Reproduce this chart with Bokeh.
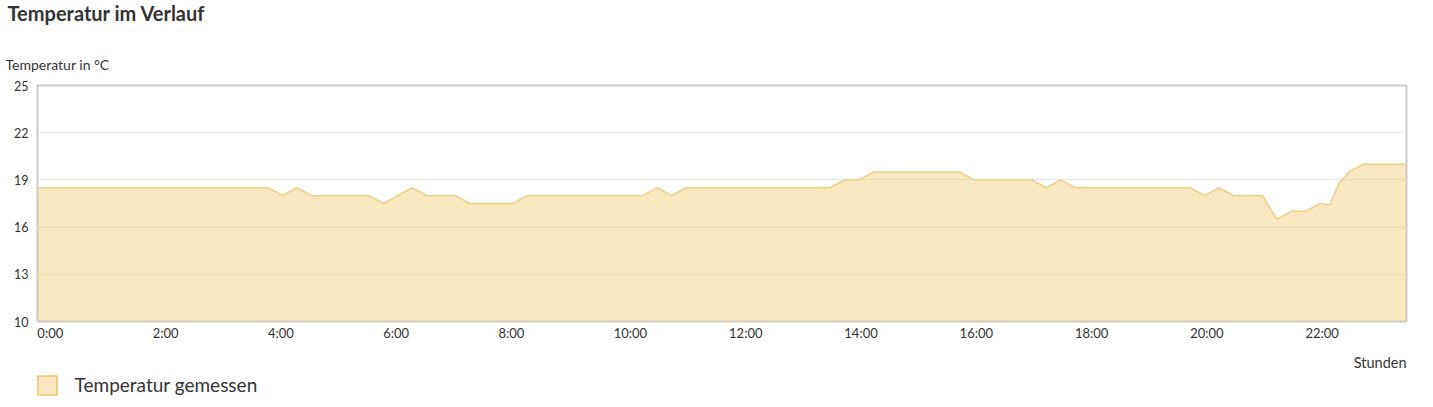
from bokeh.plotting import figure
from bokeh.layouts import column
from bokeh.models import (FixedTicker, Title, Legend, LegendItem, Range1d,
                          ColumnDataSource, Label)
from bokeh.embed import file_html
from bokeh.resources import INLINE

# ---------------- data ----------------
times = [
    "0:00", "0:15", "0:30", "0:45", "1:00", "1:15", "1:30", "1:45",
    "2:00", "2:15", "2:30", "2:45", "3:00", "3:15", "3:30", "3:45",
    "4:00", "4:15", "4:30", "4:45", "5:00", "5:15", "5:30", "5:45",
    "6:00", "6:15", "6:30", "6:45", "7:00", "7:15", "7:30", "7:45",
    "8:00", "8:15", "8:30", "8:45", "9:00", "9:15", "9:30", "9:45",
    "10:00", "10:15", "10:30", "10:45", "11:00", "11:15", "11:30", "11:45",
    "12:00", "12:15", "12:30", "12:45", "13:00", "13:15", "13:30", "13:45",
    "14:00", "14:15", "14:30", "14:45", "15:00", "15:15", "15:30", "15:45",
    "16:00", "16:15", "16:30", "16:45", "17:00", "17:15", "17:30", "17:45",
    "18:00", "18:15", "18:30", "18:45", "19:00", "19:15", "19:30", "19:45",
    "20:00", "20:15", "20:30", "20:45", "21:00", "21:15", "21:30", "21:45",
    "22:00", "22:15", "22:25", "22:35", "22:45",
    "23:00", "23:15", "23:30", "23:45",
]
temps = [
    18.5, 18.5, 18.5, 18.5, 18.5, 18.5, 18.5, 18.5,
    18.5, 18.5, 18.5, 18.5, 18.5, 18.5, 18.5, 18.5,
    18.5, 18.0, 18.5, 18.0, 18.0, 18.0, 18.0, 18.0,
    17.5, 18.0, 18.5, 18.0, 18.0, 18.0, 17.5, 17.5,
    17.5, 17.5, 18.0, 18.0, 18.0, 18.0, 18.0, 18.0,
    18.0, 18.0, 18.0, 18.5, 18.0, 18.5, 18.5, 18.5,
    18.5, 18.5, 18.5, 18.5, 18.5, 18.5, 18.5, 18.5,
    19.0, 19.0, 19.5, 19.5, 19.5, 19.5, 19.5, 19.5,
    19.5, 19.0, 19.0, 19.0, 19.0, 19.0, 18.5, 19.0,
    18.5, 18.5, 18.5, 18.5, 18.5, 18.5, 18.5, 18.5,
    18.5, 18.0, 18.5, 18.0, 18.0, 18.0, 16.5, 17.0,
    17.0, 17.5, 17.4, 18.8, 19.5,
    20.0, 20.0, 20.0, 20.0,
]
y_ticks = [10, 13, 16, 19, 22, 25]
x_tick_hours = [0, 2, 4, 6, 8, 10, 12, 14, 16, 18, 20, 22]
x_tick_labels = ["0:00", "2:00", "4:00", "6:00", "8:00", "10:00",
                 "12:00", "14:00", "16:00", "18:00", "20:00", "22:00"]

title_text = "Temperatur im Verlauf"
y_label_text = "Temperatur in °C"
x_label_text = "Stunden"
series_name = "Temperatur gemessen"

# ---------------- styling ----------------
FONT = "Lato"
TXT = "#333333"
FILL = "#F2C261"
LINE = "#F4CD84"
W = 1415

hours = [int(t.split(":")[0]) + int(t.split(":")[1]) / 60.0 for t in times]

X_START, X_END = 0.0, 23.75
FRAME_W = 1369
px_per_h = FRAME_W / (X_END - X_START)
x_rng = Range1d(X_START, X_END)


def strip(height):
    f = figure(width=W, height=height, output_backend="svg",
               toolbar_location=None, tools="", x_axis_type=None,
               y_axis_type=None, x_range=x_rng, y_range=Range1d(0, height),
               min_border_left=37, min_border_right=W - 37 - FRAME_W,
               min_border_top=0, min_border_bottom=0, outline_line_color=None)
    f.grid.grid_line_color = None
    return f


# ---- top strip: chart title ----
p0 = strip(30)
main = Title(text=title_text, align="left", offset=-30, standoff=0,
             vertical_align="top",
             text_font=FONT, text_font_size="20px", text_font_style="bold",
             text_color=TXT)
p0.add_layout(main, "above")

# ---- main chart ----
p = figure(
    width=W, height=313,
    output_backend="svg", toolbar_location=None, tools="",
    x_range=x_rng, y_range=Range1d(10, 25),
    min_border_left=37, min_border_right=W - 37 - FRAME_W,
    min_border_top=55, min_border_bottom=20,
    background_fill_color="white", border_fill_color="white",
)
p.outline_line_color = "#cccccc"
p.outline_line_width = 2

src = ColumnDataSource(dict(x=hours, y=temps, base=[10] * len(hours)))
p.varea(x="x", y1="base", y2="y", source=src, fill_color=FILL, fill_alpha=0.38)
p.line(x="x", y="y", source=src, line_color=LINE, line_width=1.5)

# y axis
p.yaxis.ticker = FixedTicker(ticks=y_ticks)
p.yaxis.axis_line_color = None
p.yaxis.major_tick_line_color = None
p.yaxis.major_tick_out = 0
p.yaxis.major_tick_in = 0
p.yaxis.minor_tick_line_color = None
p.yaxis.minor_tick_out = 0
p.yaxis.major_label_standoff = 9
p.yaxis.major_label_text_font = FONT
p.yaxis.major_label_text_font_size = "12.5px"
p.yaxis.major_label_text_color = TXT
p.ygrid.ticker = FixedTicker(ticks=y_ticks)
p.ygrid.grid_line_color = "#e6e6e6"
p.xgrid.grid_line_color = None

# x axis: labels start at their hour (left aligned), so shift tick by half label width
tick_pos = []
overrides = {}
for h, lbl in zip(x_tick_hours, x_tick_labels):
    half_w = ((len(lbl) - 1) * 7.5 + 3.1) / 2.0
    pos = round(h + half_w / px_per_h, 4)
    tick_pos.append(pos)
    overrides[pos] = lbl
p.xaxis.ticker = FixedTicker(ticks=tick_pos)
p.xaxis.major_label_overrides = overrides
p.xaxis.axis_line_color = None
p.xaxis.major_tick_line_color = None
p.xaxis.major_tick_out = 0
p.xaxis.major_tick_in = 0
p.xaxis.minor_tick_line_color = None
p.xaxis.minor_tick_out = 0
p.xaxis.major_label_standoff = 3
p.xaxis.major_label_text_font = FONT
p.xaxis.major_label_text_font_size = "13px"
p.xaxis.major_label_text_color = TXT

# y-axis caption above the plot area
ylab = Title(text=y_label_text, align="left", offset=-32, standoff=26,
             text_font=FONT, text_font_size="14px", text_font_style="normal",
             text_color=TXT)
p.add_layout(ylab, "above")

# ---- bottom strip: x caption and legend ----
H2 = 62
p2 = strip(H2)
xlab = Label(x=X_END, y=H2 - 19, x_units="data", y_units="screen",
             text=x_label_text, text_align="right", text_baseline="middle",
             text_font=FONT, text_font_size="14.5px", text_color=TXT)
p2.add_layout(xlab)

# placeholder quad for the legend key (lies outside the visible range)
dummy = p2.quad(left=[-5], right=[-4], top=[-4], bottom=[-5], fill_color="#F9E7C3",
                line_color="#F0C46A", line_width=1.5)
legend = Legend(items=[LegendItem(label=series_name, renderers=[dummy])],
                location=(-2.4, 8.4), orientation="horizontal",
                glyph_width=24, glyph_height=24, label_standoff=16,
                label_text_font=FONT, label_text_font_size="19px",
                label_text_color=TXT, border_line_color=None,
                background_fill_alpha=0, margin=0, padding=0, spacing=0)
p2.add_layout(legend)

layout = column(p0, p, p2, spacing=0)
open("out.html", "w").write(file_html(layout, INLINE))
